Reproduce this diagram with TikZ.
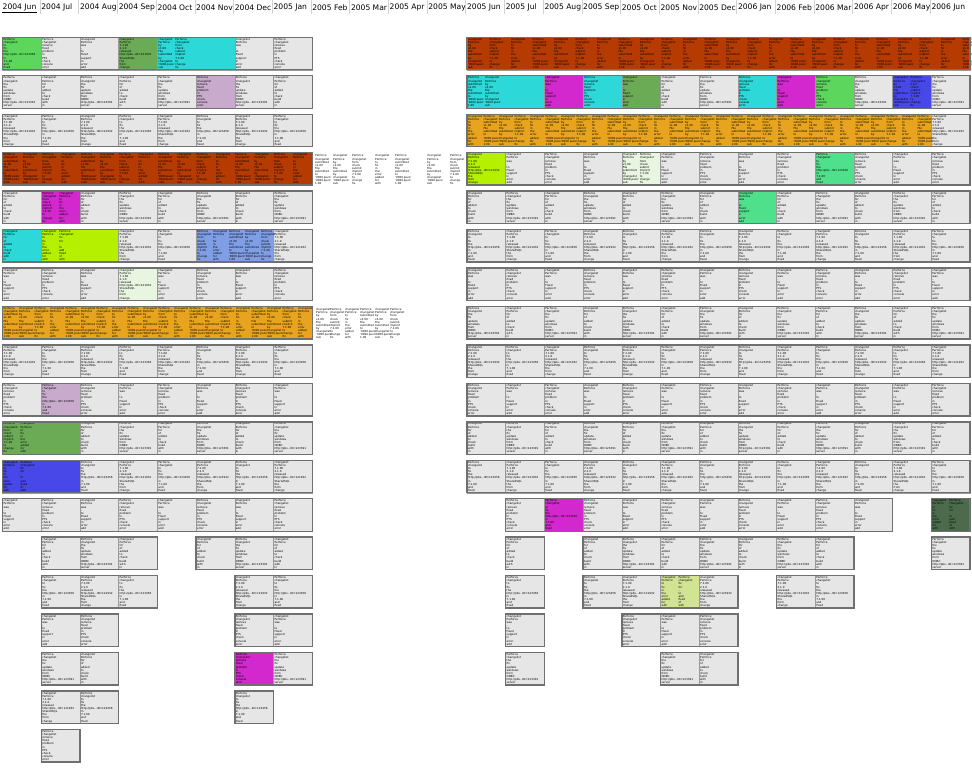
\documentclass[tikz,border=0pt]{standalone}
\usepackage{fontspec}
\setmainfont{DejaVu Sans}
\usetikzlibrary{positioning}
\definecolor{CellGray}{HTML}{E6E6E6}
\definecolor{CellLine}{HTML}{9A9A9A}
\definecolor{FrameLine}{HTML}{707070}
\definecolor{HeadLine}{HTML}{D2D2D2}
\definecolor{BrightGreen}{HTML}{5CD65C}
\definecolor{MossGreen}{HTML}{6CAB56}
\definecolor{Turquoise}{HTML}{2CD8D8}
\definecolor{Lilac}{HTML}{C8AACC}
\definecolor{Rust}{HTML}{B53B02}
\definecolor{Amber}{HTML}{E8A41E}
\definecolor{Orchid}{HTML}{D228CE}
\definecolor{Lime}{HTML}{B4F000}
\definecolor{Periwinkle}{HTML}{809EE6}
\definecolor{RoyalBlue}{HTML}{4848E8}
\definecolor{PaleGreen}{HTML}{E8F5E0}
\definecolor{Mint}{HTML}{4EE08A}
\definecolor{LightLime}{HTML}{D2E494}
\definecolor{DarkMoss}{HTML}{4C6B4C}

% cell texts
\expandafter\newcommand\csname wtext0\endcsname{Perforce\\changelist\\to\\fix\\the\\http://pbs...ID=123456\\in\\7.1.00\\and\\fixed}
\expandafter\newcommand\csname wtext1\endcsname{changelist\\Perforce\\for\\of\\added\\to\\check\\build\\with\\in}
\expandafter\newcommand\csname wtext2\endcsname{Perforce\\changelist\\remove\\fixed\\problem\\in\\PTS\\check\\console\\error}
\expandafter\newcommand\csname wtext3\endcsname{changelist\\Perforce\\7.1.00\\2.1.0\\released\\http://pbs...ID=121932\\SharedSQL\\the\\from\\change}
\expandafter\newcommand\csname wtext4\endcsname{Perforce\\changelist\\the\\fix\\update\\windows\\from\\ODBC\\http://pbs...ID=123391\\server}
\expandafter\newcommand\csname wtext5\endcsname{changelist\\Perforce\\was\\-\\to\\Fixed\\support\\in\\error\\add}
\expandafter\newcommand\csname ntext0\endcsname{Perforce\\changelist\\submitted\\v1.00\\File\\submitted\\to\\'0000.puzo'\\'0000.puzo'\\1.00}
\expandafter\newcommand\csname ntext1\endcsname{changelist\\Perforce\\by\\v1.00\\File\\submitted\\by\\changelist\\'0000.puzo'\\sub}
\expandafter\newcommand\csname ntext2\endcsname{Perforce\\changelist\\from\\check\\submit\\implicit\\7.1.00\\to\\change\\fix}
\expandafter\newcommand\csname ntext3\endcsname{changelist\\Perforce\\to\\fix\\in\\the\\error\\added\\for\\with}
\expandafter\newcommand\csname ntext4\endcsname{Perforce\\changelist\\fix\\for\\-\\to\\add\\fixed\\of\\with}

\def\segs{1/0/8,2/0/8,3/0/8,4/0/8,5/0/8,6/0/8,7/0/8,8/0/8,9/0/8,10/0/8,11/0/8,12/0/8,13/0/8,
  14/1/4,14/5/8,15/1/4,15/6/8,16/1/3,16/6/8,17/1/3,17/6/8,18/1/3,18/6/7,19/1/2,
  1/12/25,2/12/25,3/12/25,4/12/25,5/12/25,6/12/25,7/12/25,8/12/25,9/12/25,10/12/25,11/12/25,12/12/25,
  13/13/23,13/24/25,14/13/14,14/15/22,14/24/25,15/13/14,15/15/19,15/20/22,16/13/14,16/16/19,17/13/14,17/17/19}

\begin{document}
\begin{tikzpicture}[x=1pt, y=-1pt,
  monthlab/.style={anchor=west, inner sep=0.5pt, font=\fontsize{7.6}{8}\selectfont},
  monthsep/.style={draw=HeadLine, line width=0.6pt},
  cellbox/.style={draw=CellLine, line width=0.5pt, fill=CellGray, anchor=north west,
    minimum height=32.5pt, inner sep=0pt, outer sep=0pt},
  rowframe/.style={draw=FrameLine, line width=1.4pt, anchor=north west,
    minimum height=32.5pt, inner sep=0pt, outer sep=0pt},
  celltxt/.style={anchor=north west, inner sep=0pt, align=left,
    font=\fontsize{2.75}{3.1}\selectfont},
]
\useasboundingbox (0,0) rectangle (972,768);

% month header
\foreach \lab [count=\i from 0] in {2004 Jun,2004 Jul,2004 Aug,2004 Sep,2004 Oct,2004 Nov,2004 Dec,
  2005 Jan,2005 Feb,2005 Mar,2005 Apr,2005 May,2005 Jun,2005 Jul,2005 Aug,2005 Sep,2005 Oct,
  2005 Nov,2005 Dec,2006 Jan,2006 Feb,2006 Mar,2006 Apr,2006 May,2006 Jun}
  \node[monthlab] (h\i) at ({2+38.7*\i},7.5) {\lab};
\foreach \i in {1,...,24}
  \draw[monthsep] ({1.3+38.7*\i},0) -- ++(0,14);
\draw[line width=0.5pt] (h0.south west) -- (h0.south east);

% plain cells
\foreach \r/\a/\b in \segs {
  \pgfmathtruncatemacro\e{\b-1}
  \foreach \m in {\a,...,\e} {
    \pgfmathtruncatemacro\v{mod(\r*5+\m*3,6)}
    \node[cellbox, minimum width=38.7pt] (c-\r-\m) at ({2.6+38.7*\m},{37.3+38.45*(\r-1)}) {};
    \node[celltxt] (t-\r-\m) at ([xshift=0.8pt,yshift=-0.9pt]c-\r-\m.north west) {\csname wtext\v\endcsname};
  }
}

% coloured cells
\foreach \r/\m/\s/\col/\k in {1/0/1/BrightGreen/1, 1/3/1/MossGreen/1, 1/4/2/Turquoise/2,
  2/5/1/Lilac/1, 5/1/1/Orchid/2, 6/0/1/Turquoise/1, 6/1/2/Lime/2, 7/3/1/PaleGreen/1,
  10/1/1/Lilac/1, 11/0/2/MossGreen/2, 12/0/2/RoyalBlue/2, 17/6/1/Orchid/1,
  2/12/2/Turquoise/2, 2/14/1/Orchid/1, 2/15/1/Turquoise/1, 2/16/1/MossGreen/1,
  2/19/1/Turquoise/1, 2/20/1/Orchid/1, 2/21/1/BrightGreen/1, 2/23/1/RoyalBlue/2,
  4/12/1/Lime/1, 4/16/1/PaleGreen/2, 4/21/1/Mint/1, 5/19/1/Mint/1,
  13/14/1/Orchid/1, 13/24/1/DarkMoss/2, 15/17/1/LightLime/2} {
  \node[cellbox, fill=\col, minimum width=\s*38.7pt] (k-\r-\m) at ({2.6+38.7*\m},{37.3+38.45*(\r-1)}) {};
  \ifnum\k=1
    \pgfmathtruncatemacro\v{mod(\r*5+\m*3+1,6)}
    \node[celltxt] (kt-\r-\m) at ([xshift=0.8pt,yshift=-0.9pt]k-\r-\m.north west) {\csname wtext\v\endcsname};
  \else
    \foreach \j in {1,...,\k} {
      \pgfmathtruncatemacro\v{mod(\r+\m+\j,5)}
      \pgfmathsetmacro\o{0.8+17*(\j-1)}
      \node[celltxt] (kt-\r-\m-\j) at ([xshift=\o pt,yshift=-0.9pt]k-\r-\m.north west) {\csname ntext\v\endcsname};
    }
  \fi
}

% rows of narrow changelists
\foreach \r/\a/\b/\col/\d in {4/0/8/Rust/19.3, 8/0/8/Amber/15.5, 6/5/7/Periwinkle/16,
  1/12/25/Rust/21.5, 3/12/24/Amber/15.5} {
  \node[cellbox, fill=\col, minimum width=(\b-\a)*38.7pt] (n-\r-\a) at ({2.6+38.7*\a},{37.3+38.45*(\r-1)}) {};
  \pgfmathtruncatemacro\nc{floor(((\b-\a)*38.7-8)/\d)}
  \foreach \j in {0,...,\nc} {
    \pgfmathtruncatemacro\v{mod(\j+\r,4)}
    \pgfmathsetmacro\o{0.8+\d*\j}
    \node[celltxt] (n-\r-\a-\j) at ([xshift=\o pt,yshift=-0.9pt]n-\r-\a.north west) {\csname ntext\v\endcsname};
  }
}

% changelists running past the rows
\foreach \r/\xs/\v in {4/315/0, 4/333/1, 4/352/2, 4/375/3, 4/395/0, 4/427/1, 4/450/2,
  8/316/1, 8/330/2, 8/345/3, 8/360/0, 8/375/1, 8/390/2}
  \node[celltxt] (o-\r-\xs) at (\xs,{37.3+38.45*(\r-1)+2}) {\csname ntext\v\endcsname};

% row frames
\foreach \r/\a/\b in \segs
  \node[rowframe, minimum width=(\b-\a)*38.7pt] (f-\r-\a) at ({2.6+38.7*\a},{37.3+38.45*(\r-1)}) {};
\end{tikzpicture}
\end{document}
